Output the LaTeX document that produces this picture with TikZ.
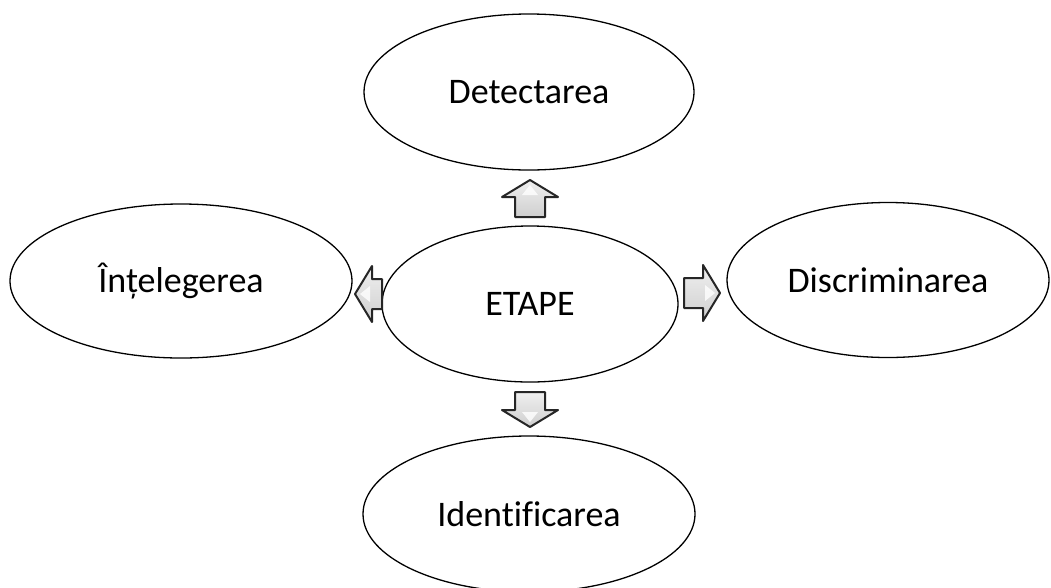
\documentclass[tikz,border=0pt]{standalone}
\usepackage{fontspec}
\setmainfont[Ligatures=NoCommon]{Carlito}
\usetikzlibrary{shapes.geometric}
\tikzset{
  stage/.style={ellipse, draw=black, line width=1.3pt, fill=white, inner sep=0pt,
    font=\fontsize{36}{40}\selectfont},
  barrow/.pic={
    \path[draw=black!85, line width=2pt, line join=round,
      top color=gray!12, bottom color=gray!38, shading angle=0]
      (-#1/2,-15) -- (#1/2-17,-15) -- (#1/2-17,-28) -- (#1/2,0)
      -- (#1/2-17,28) -- (#1/2-17,15) -- (-#1/2,15) -- cycle;
    \path[fill=white, opacity=0.8] (#1/2-15,-8) -- (#1/2-5,0) -- (#1/2-15,8) -- cycle;
  }
}
\begin{document}
\begin{tikzpicture}[x=1pt,y=-1pt]
\useasboundingbox (0,0) rectangle (1051,587);
\fill[white] (0,0) rectangle (1051,587);
\node[stage, minimum width=330pt, minimum height=156pt] (det) at (529,92) {Detectarea};
\node[stage, minimum width=342pt, minimum height=154pt] (int) at (181,281) {Înțelegerea};
\node[stage, minimum width=322pt, minimum height=155pt] (dis) at (888,280) {Discriminarea};
\node[stage, minimum width=332pt, minimum height=156pt] (idf) at (529,514) {Identificarea};
\node[stage, minimum width=296pt, minimum height=156pt] (etp) at (530,304) {ETAPE};
\coordinate (aup) at (530,198.5);
\coordinate (adn) at (530,409.5);
\coordinate (alf) at (368.5,294);
\coordinate (arg) at (702,293);
\pic[rotate=90] at (aup) {barrow=37};
\pic[rotate=-90] at (adn) {barrow=35};
\pic[rotate=180] at (alf) {barrow=27};
\pic at (arg) {barrow=36};
\end{tikzpicture}
\end{document}
